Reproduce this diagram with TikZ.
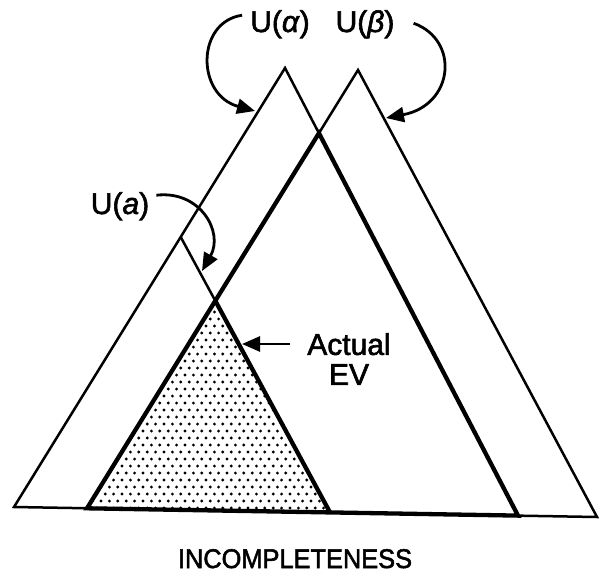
\documentclass[tikz,border=0pt]{standalone}
\usepackage{fontspec}
\setmainfont{Liberation Sans}
\newfontfamily\heavysans[FakeBold=2]{Liberation Sans}
\usetikzlibrary{arrows.meta}
\begin{document}
\begin{tikzpicture}[x=1pt,y=-1pt,
  thinedge/.style={line width=2.5pt,line join=miter},
  thickedge/.style={line width=4.3pt,line join=miter},
  callout/.style={line width=2.8pt,-{Triangle[length=18pt,width=15pt]}},
  lbl/.style={inner sep=0pt,font=\heavysans\fontsize{30}{30}\selectfont},
  dot/.style={fill=black}]
\fill[white] (0,0) rectangle (609,580);
\useasboundingbox (0,0) rectangle (609,580);
% geometry
\coordinate (Aapex) at (285,68);
\coordinate (AL) at (14,507);
\coordinate (AR) at (518,515.6);
\coordinate (Bapex) at (358,70);
\coordinate (BL) at (87,508.3);
\coordinate (BR) at (597,517);
\coordinate (X) at (intersection of Aapex--AR and Bapex--BL);
\coordinate (aApex) at (180.7,237);
\coordinate (DR) at (330,512.4);
\coordinate (D) at (intersection of aApex--DR and Bapex--BL);
% dotted fill
\begin{scope}
\clip (D) -- (BL) -- (DR) -- cycle;
\foreach \j in {0,...,32} {
  \pgfmathsetmacro\yy{298+\j*7}
  \pgfmathsetmacro\off{mod(\j,2)*4.2}
  \foreach \i in {0,...,32} {
    \fill[dot] (80+\off+\i*8.4,\yy) circle (1.6pt);
  }
}
\end{scope}
% outlines
\draw[thinedge] (X) -- (Aapex) -- (AL) -- (BR) -- (Bapex) -- (X);
\draw[thinedge] (aApex) -- (D);
\draw[thickedge] (X) -- (AR) -- (BL) -- cycle;
\draw[thickedge] (D) -- (DR);
% labels
\node[lbl, anchor=base] (Ualpha) at (280,32) {U(\textit{α})};
\node[lbl, anchor=base] (Ubeta) at (365,32) {U(\textit{β})};
\node[lbl, anchor=base] (Ua) at (120,214) {U(\textit{a})};
\node[lbl, align=center] (EV) at (349,359) {Actual\\EV};
\node[inner sep=0pt, anchor=base, font=\heavysans\fontsize{27}{30}\selectfont] (inc) at (295,568) {\scalebox{0.94}[1]{INCOMPLETENESS}};
% callout tips
\coordinate (ta) at (255,111);
\coordinate (tb) at (386,118);
\coordinate (tu) at (202,271);
\coordinate (te) at (242,344);
% callouts
\draw[callout] ([shift={(-8,-9)}]Ualpha.west) .. controls (196,22) and (196,95) .. (ta);
\draw[callout] ([shift={(19,-1)}]Ubeta.east) .. controls (460,40) and (454,105) .. (tb);
\draw[callout] ([shift={(7,-11)}]Ua.east) .. controls (200,190) and (224,232) .. (tu);
\draw[callout] ([shift={(-17,-15)}]EV.west) -- (te);
\end{tikzpicture}
\end{document}
